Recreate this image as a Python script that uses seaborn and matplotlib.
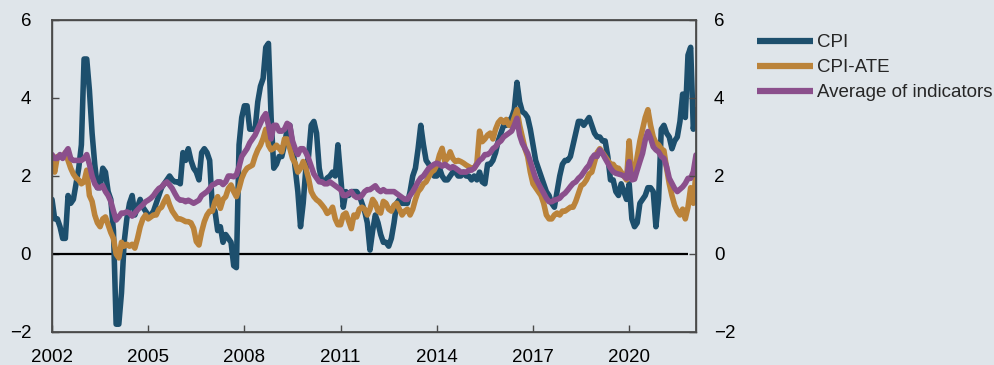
import numpy as np
import pandas as pd
import matplotlib
matplotlib.use("Agg")
import matplotlib.pyplot as plt
import seaborn as sns

# Monthly twelve-month change, per cent, January 2002 - February 2022
cpi = [
    1.4, 0.9, 0.9, 0.7, 0.4, 0.4, 1.5, 1.3, 1.4, 1.8, 2.2, 2.8,        # 2002
    5.0, 5.0, 4.2, 3.1, 2.3, 1.7, 1.7, 2.2, 2.1, 1.6, 1.4, 0.6,        # 2003
    -1.8, -1.8, -1.0, 0.3, 0.9, 1.3, 1.5, 1.0, 1.2, 1.4, 1.2, 1.1,     # 2004
    1.0, 1.0, 1.1, 1.3, 1.5, 1.7, 1.8, 1.9, 2.0, 1.9, 1.85, 1.85,      # 2005
    1.8, 2.6, 2.4, 2.7, 2.4, 2.2, 2.1, 1.9, 2.6, 2.7, 2.6, 2.4,        # 2006
    1.2, 1.1, 0.6, 0.7, 0.3, 0.5, 0.4, 0.3, -0.3, -0.35, 2.8, 3.5,     # 2007
    3.8, 3.8, 3.2, 3.2, 3.2, 3.9, 4.3, 4.5, 5.3, 5.4, 3.5, 2.2,        # 2008
    2.3, 2.5, 2.5, 2.8, 3.2, 3.3, 2.8, 2.2, 1.6, 0.7, 1.3, 2.2,        # 2009
    2.5, 3.3, 3.4, 3.1, 2.2, 1.85, 1.85, 1.95, 2.0, 2.1, 2.0, 2.8,     # 2010
    2.0, 1.2, 1.6, 1.5, 1.6, 1.6, 1.6, 1.5, 1.3, 1.1, 0.8, 0.1,        # 2011
    0.6, 1.0, 0.8, 0.5, 0.3, 0.3, 0.2, 0.4, 0.8, 1.3, 1.4, 1.3,        # 2012
    1.3, 1.3, 1.6, 2.0, 2.2, 2.7, 3.3, 2.8, 2.4, 2.3, 2.2, 2.0,        # 2013
    2.0, 2.2, 2.0, 1.9, 1.9, 2.0, 2.1, 2.1, 2.0, 2.0, 2.1, 2.0,        # 2014
    2.0, 1.9, 2.0, 1.9, 2.1, 1.85, 1.8, 2.3, 2.3, 2.4, 2.6, 2.9,       # 2015
    3.1, 3.3, 3.3, 3.4, 3.5, 3.7, 4.4, 3.9, 3.65, 3.6, 3.5, 3.2,       # 2016
    2.8, 2.4, 2.2, 2.0, 1.8, 1.6, 1.5, 1.3, 1.2, 1.6, 2.0, 2.3,        # 2017
    2.4, 2.4, 2.5, 2.8, 3.1, 3.4, 3.4, 3.3, 3.4, 3.5, 3.3, 3.1,        # 2018
    3.0, 3.0, 2.9, 2.9, 2.5, 1.9, 1.9, 1.6, 1.5, 1.8, 1.6, 1.4,        # 2019
    1.8, 0.9, 0.7, 0.8, 1.3, 1.4, 1.5, 1.7, 1.7, 1.6, 0.7, 1.4,        # 2020
    3.2, 3.3, 3.1, 3.0, 2.7, 2.9, 3.0, 3.4, 4.1, 3.5, 5.1, 5.3,        # 2021
    3.2, 3.7,                                                          # 2022
]

cpi_ate = [
    2.4, 2.1, 2.5, 2.5, 2.5, 2.6, 2.4, 2.2, 2.05, 1.95, 1.9, 1.8,      # 2002
    1.85, 2.15, 1.5, 1.35, 1.0, 0.8, 0.7, 0.9, 0.95, 0.75, 0.55, 0.4,  # 2003
    0.0, -0.1, 0.3, 0.2, 0.25, 0.2, 0.25, 0.15, 0.4, 0.7, 0.9, 1.0,    # 2004
    0.9, 0.95, 1.0, 1.0, 1.15, 1.2, 1.35, 1.47, 1.26, 1.1, 1.0, 0.9,   # 2005
    0.9, 0.87, 0.83, 0.83, 0.8, 0.66, 0.32, 0.23, 0.57, 0.83, 1.0, 1.1,  # 2006
    1.1, 1.34, 1.47, 1.17, 1.4, 1.47, 1.68, 1.77, 1.6, 1.47, 1.68, 1.94,  # 2007
    2.1, 2.2, 2.24, 2.28, 2.5, 2.67, 2.79, 2.96, 3.2, 2.79, 2.67, 2.71,  # 2008
    2.79, 2.71, 2.62, 2.95, 2.95, 2.71, 2.45, 2.33, 2.1, 2.2, 2.37, 2.2,  # 2009
    1.94, 1.6, 1.47, 1.39, 1.34, 1.26, 1.17, 1.04, 1.09, 1.2, 0.9, 0.75,  # 2010
    0.75, 1.0, 1.05, 0.85, 0.65, 1.0, 0.95, 1.15, 1.2, 1.15, 1.0, 1.15,  # 2011
    1.4, 1.3, 1.1, 1.05, 1.35, 1.3, 1.15, 1.1, 1.25, 1.3, 1.15, 1.0,   # 2012
    1.1, 1.15, 1.0, 1.15, 1.4, 1.6, 1.68, 1.8, 1.85, 1.98, 2.1, 2.15,  # 2013
    2.28, 2.54, 2.71, 2.37, 2.45, 2.62, 2.45, 2.37, 2.4, 2.37, 2.33, 2.28,  # 2014
    2.24, 2.2, 2.2, 2.33, 3.15, 2.88, 2.95, 3.05, 3.1, 2.95, 3.2, 3.37,  # 2015
    3.45, 3.37, 3.45, 3.3, 3.3, 3.5, 3.7, 3.3, 3.0, 2.7, 2.5, 2.1,     # 2016
    1.8, 1.7, 1.6, 1.5, 1.3, 1.0, 0.9, 0.9, 1.0, 1.05, 1.0, 1.1,       # 2017
    1.1, 1.15, 1.2, 1.2, 1.35, 1.55, 1.75, 1.8, 1.9, 2.05, 2.1, 2.35,  # 2018
    2.6, 2.7, 2.6, 2.5, 2.4, 2.3, 2.3, 2.2, 2.2, 2.1, 2.0, 1.9,        # 2019
    2.9, 2.0, 2.0, 2.5, 2.9, 3.2, 3.5, 3.7, 3.3, 3.0, 2.85, 2.8,       # 2020
    2.7, 2.65, 2.2, 1.8, 1.5, 1.25, 1.1, 1.0, 1.15, 0.9, 1.2, 1.7,     # 2021
    1.3, 2.1,                                                          # 2022
]

avg_indicators = [
    2.55, 2.45, 2.45, 2.55, 2.45, 2.6, 2.7, 2.45, 2.4, 2.4, 2.4, 2.4,  # 2002
    2.45, 2.55, 2.3, 2.0, 1.8, 1.7, 1.7, 1.75, 1.6, 1.5, 1.35, 1.1,    # 2003
    0.87, 0.95, 1.05, 1.05, 1.08, 1.05, 0.97, 1.05, 1.13, 1.2, 1.26, 1.34,  # 2004
    1.38, 1.43, 1.5, 1.6, 1.68, 1.72, 1.8, 1.85, 1.77, 1.68, 1.55, 1.43,  # 2005
    1.38, 1.38, 1.34, 1.38, 1.34, 1.3, 1.34, 1.38, 1.5, 1.55, 1.6, 1.68,  # 2006
    1.77, 1.8, 1.85, 1.85, 1.78, 1.85, 2.0, 2.0, 1.98, 2.03, 2.24, 2.5,  # 2007
    2.6, 2.7, 2.85, 2.95, 3.05, 3.2, 3.35, 3.5, 3.6, 3.3, 2.95, 3.3,   # 2008
    3.3, 3.15, 3.15, 3.2, 3.35, 3.3, 2.9, 2.7, 2.55, 2.7, 2.7, 2.6,    # 2009
    2.45, 2.25, 2.05, 1.95, 1.85, 1.85, 1.8, 1.8, 1.85, 1.8, 1.75, 1.7,  # 2010
    1.65, 1.5, 1.5, 1.55, 1.6, 1.5, 1.45, 1.45, 1.5, 1.6, 1.65, 1.65,  # 2011
    1.7, 1.75, 1.65, 1.6, 1.65, 1.6, 1.6, 1.6, 1.6, 1.55, 1.5, 1.45,   # 2012
    1.4, 1.4, 1.5, 1.6, 1.72, 1.85, 1.95, 2.0, 2.1, 2.2, 2.25, 2.3,    # 2013
    2.33, 2.3, 2.25, 2.3, 2.25, 2.2, 2.24, 2.2, 2.15, 2.1, 2.1, 2.1,   # 2014
    2.15, 2.15, 2.2, 2.3, 2.4, 2.45, 2.55, 2.55, 2.6, 2.7, 2.75, 2.85,  # 2015
    2.9, 3.0, 3.05, 3.1, 3.15, 3.3, 3.48, 3.05, 2.84, 2.71, 2.58, 2.37,  # 2016
    2.15, 1.94, 1.81, 1.68, 1.56, 1.43, 1.34, 1.34, 1.38, 1.4, 1.43, 1.51,  # 2017
    1.56, 1.64, 1.73, 1.81, 1.85, 1.94, 2.0, 2.1, 2.2, 2.28, 2.45, 2.54,  # 2018
    2.5, 2.67, 2.58, 2.45, 2.33, 2.2, 2.11, 2.07, 2.05, 2.03, 2.0, 1.94,  # 2019
    2.37, 1.9, 1.92, 2.15, 2.37, 2.58, 2.92, 3.14, 2.97, 2.75, 2.67, 2.62,  # 2020
    2.5, 2.45, 2.24, 1.94, 1.81, 1.68, 1.6, 1.66, 1.72, 1.81, 1.94, 1.94,  # 2021
    2.11, 2.54,                                                        # 2022
]

series_names = ["CPI", "CPI-ATE", "Average of indicators"]
series_colors = ["#1d4f6d", "#bb833a", "#8b4f8c"]
x_ticks = [2002, 2005, 2008, 2011, 2014, 2017, 2020]
y_ticks = [-2, 0, 2, 4, 6]

background = "#dfe5ea"

# Decimal-year time axis, one point per month
months = np.arange(len(cpi))
t = 2002 + months / 12.0
wide = pd.DataFrame({"t": t, "CPI": cpi, "CPI-ATE": cpi_ate,
                     "Average of indicators": avg_indicators})
long = wide.melt(id_vars="t", var_name="series", value_name="value")

sns.set_theme(style="ticks")
plt.rcParams["font.family"] = ["Liberation Sans", "DejaVu Sans"]

fig = plt.figure(figsize=(9.95, 3.65), dpi=100)
fig.patch.set_facecolor(background)
ax = fig.add_axes([52 / 995, 1 - 332 / 365, (696 - 52) / 995, (332 - 20) / 365])
ax.set_facecolor(background)

ax.hlines(0, 2002, 2021.83, color="black", linewidth=1.6, zorder=1)

sns.lineplot(data=long, x="t", y="value", hue="series", hue_order=series_names,
             palette=dict(zip(series_names, series_colors)), linewidth=4,
             ax=ax, zorder=2)

ax.set_xlim(2002, t[-1])
ax.set_ylim(-2, 6)
ax.set_xticks(x_ticks)
ax.set_xticklabels([str(x) for x in x_ticks])
ax.set_yticks(y_ticks)
ax.set_xlabel("")
ax.set_ylabel("")

for side in ["left", "right", "top", "bottom"]:
    ax.spines[side].set_visible(True)
    ax.spines[side].set_color("#4a4a4a")
    ax.spines[side].set_linewidth(1.0)

ax.tick_params(axis="both", direction="in", length=5, width=1.0,
               color="#4a4a4a", labelsize=13.5, labelcolor="black")
ax.tick_params(axis="y", pad=15)
ax.tick_params(axis="x", pad=12)

# Mirror the value scale on the right-hand side
ax_r = ax.twinx()
ax_r.set_ylim(ax.get_ylim())
ax_r.set_yticks(y_ticks)
ax_r.tick_params(axis="y", direction="in", length=5, width=1.0,
                 color="#4a4a4a", labelsize=13.5, labelcolor="black", pad=13)
for side in ["left", "right", "top", "bottom"]:
    ax_r.spines[side].set_color("#4a4a4a")
ax_r.set_ylabel("")

handles, labels = ax.get_legend_handles_labels()
ax.get_legend().remove()
for h in handles:
    h.set_linewidth(4.5)
    h.set_solid_capstyle("butt")
fig.legend(handles, labels, loc="upper left", bbox_to_anchor=(757 / 995, 1 - 34 / 365),
           frameon=False, fontsize=13.5, handlelength=3.0, handletextpad=0.2,
           labelspacing=0.42, borderpad=0, borderaxespad=0)

fig.savefig("out.png", dpi=100, facecolor=background)
